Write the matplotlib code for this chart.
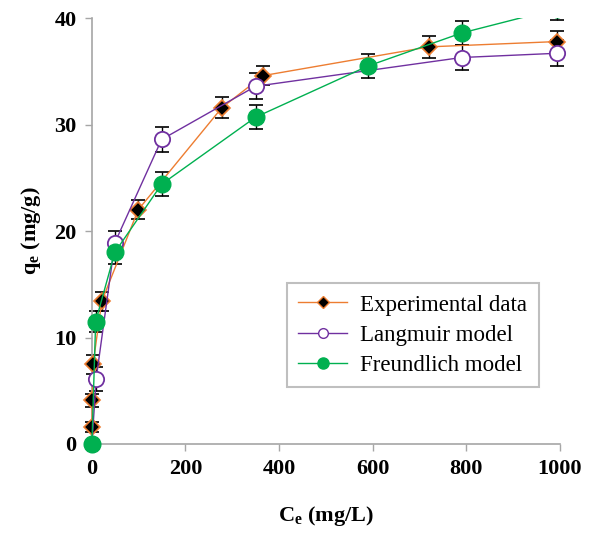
import matplotlib
matplotlib.use("Agg")
import matplotlib.pyplot as plt
from matplotlib.patches import Rectangle
from matplotlib.lines import Line2D
import numpy as np

plt.rcParams['font.family'] = ['Liberation Serif', 'DejaVu Serif']

# Dados
ce_exp = [0.3, 0.5, 2.5, 21, 99, 278, 366, 720, 995]
qe_exp = [1.6, 4.1, 7.5, 13.4, 22.0, 31.6, 34.6, 37.3, 37.8]
err_exp = [0.5, 0.6, 0.9, 0.9, 0.9, 1.0, 0.9, 1.0, 1.0]

ce_lang = [0, 9, 49, 149, 350, 790, 995]
qe_lang = [0, 6.1, 18.9, 28.6, 33.6, 36.3, 36.7]
err_lang = [0.3, 1.1, 1.1, 1.2, 1.2, 1.2, 1.2]

ce_freu = [0, 8, 49, 149, 350, 590, 790, 995]
qe_freu = [0, 11.5, 18.0, 24.4, 30.7, 35.5, 38.6, 40.9]
err_freu = [0.3, 1.0, 1.1, 1.1, 1.1, 1.1, 1.1, 1.1]

orange = '#ED7D31'
purple = '#7030A0'
green = '#00B050'

fig = plt.figure(figsize=(5.93, 5.33), dpi=100)
ax = fig.add_axes([0.155, 0.167, 0.789, 0.799])
ax.set_xlim(0, 1000)
ax.set_ylim(0, 40)

# recorte: deixa marcadores passarem nas bordas esquerda/inferior, mas corta no topo
clip = Rectangle((-0.1, -0.1), 1.2, 1.1, transform=ax.transAxes, fill=False, visible=False)
ax.add_patch(clip)

series = [
    (ce_exp, qe_exp, err_exp, orange, dict(marker='D', markersize=8, markerfacecolor='black',
                                            markeredgecolor=orange, markeredgewidth=1.2)),
    (ce_lang, qe_lang, err_lang, purple, dict(marker='o', markersize=11, markerfacecolor='white',
                                               markeredgecolor=purple, markeredgewidth=1.3)),
    (ce_freu, qe_freu, err_freu, green, dict(marker='o', markersize=12, markerfacecolor=green,
                                              markeredgecolor=green, markeredgewidth=1)),
]

for x, y, e, c, mk in series:
    eb = ax.errorbar(x, y, yerr=e, fmt='none', ecolor='black', elinewidth=1,
                     capsize=5, capthick=1.2, zorder=2)
    for a in eb.get_children():
        a.set_clip_path(clip)
    ln, = ax.plot(x, y, color=c, lw=1, zorder=3, **mk)
    ln.set_clip_path(clip)

for s in ['top', 'right']:
    ax.spines[s].set_visible(False)
for s in ['left', 'bottom']:
    ax.spines[s].set_color('#A6A6A6')
    ax.spines[s].set_linewidth(1.2)

ax.set_xticks([0, 200, 400, 600, 800, 1000])
ax.set_yticks([0, 10, 20, 30, 40])
ax.tick_params(direction='out', length=5, color='#A6A6A6', width=1, labelsize=16, pad=6)
for lab in ax.get_xticklabels() + ax.get_yticklabels():
    lab.set_fontweight('bold')

ax.set_xlabel(r'C$_\mathregular{e}$ (mg/L)', fontsize=16, fontweight='bold', labelpad=18)
ax.set_ylabel(r'q$_\mathregular{e}$ (mg/g)', fontsize=16, fontweight='bold', labelpad=8)

handles = [
    Line2D([], [], color=orange, lw=1, marker='D', markersize=6, markerfacecolor='black',
           markeredgecolor=orange),
    Line2D([], [], color=purple, lw=1, marker='o', markersize=7, markerfacecolor='white',
           markeredgecolor=purple),
    Line2D([], [], color=green, lw=1, marker='o', markersize=8, markerfacecolor=green,
           markeredgecolor=green),
]
leg = ax.legend(handles, ['Experimental data', 'Langmuir model', 'Freundlich model'],
                loc='upper left', bbox_to_anchor=(0.417, 0.378), fontsize=16.5,
                fancybox=False, edgecolor='#BFBFBF', framealpha=1, borderpad=0.5,
                borderaxespad=0, handlelength=2.1, handletextpad=0.6, labelspacing=0.4)
leg.get_frame().set_linewidth(1.5)

fig.savefig('out.png', dpi=100)
